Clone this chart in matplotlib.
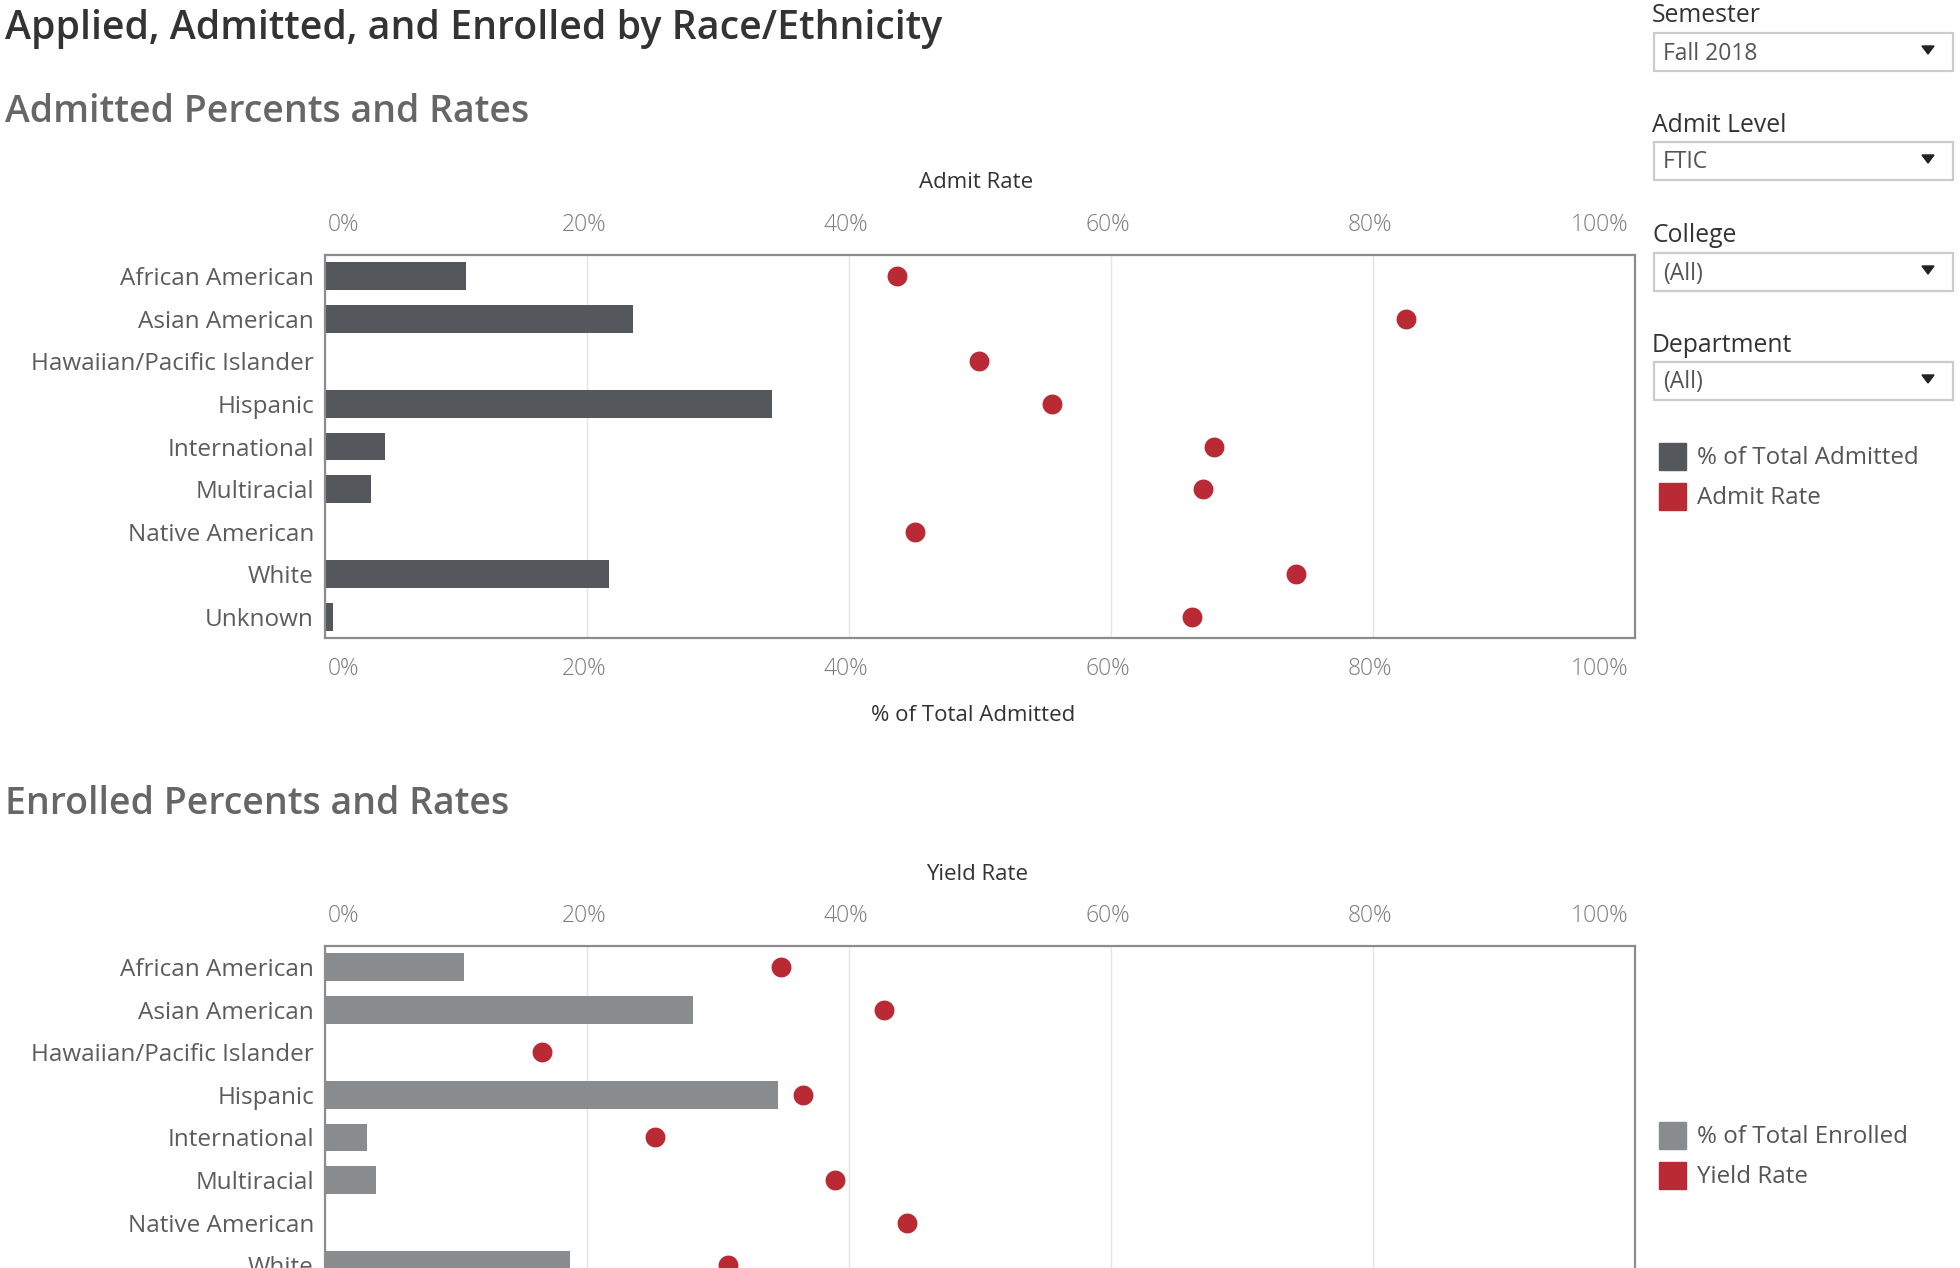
import matplotlib.pyplot as plt
from matplotlib.patches import Rectangle, Polygon
from matplotlib.transforms import blended_transform_factory, ScaledTranslation
import numpy as np

plt.rcParams['font.family'] = ['Open Sans', 'DejaVu Sans']

# data
categories = ['African American', 'Asian American', 'Hawaiian/Pacific Islander',
              'Hispanic', 'International', 'Multiracial', 'Native American',
              'White', 'Unknown']
pct_admitted = [10.8, 23.5, 0.0, 34.1, 4.6, 3.5, 0.0, 21.7, 0.6]
admit_rate = [43.7, 82.5, 49.9, 55.5, 67.9, 67.0, 45.0, 74.1, 66.2]
# Unknown row of the enrolled chart is cut off in the reference
pct_enrolled = [10.6, 28.1, 0.0, 34.6, 3.2, 3.9, 0.0, 18.7, np.nan]
yield_rate = [34.8, 42.7, 16.6, 36.5, 25.2, 38.9, 44.4, 30.8, np.nan]

x_ticks = [0, 20, 40, 60, 80, 100]
x_tick_labels = ['0%', '20%', '40%', '60%', '80%', '100%']

filters = [('Semester', 'Fall 2018'), ('Admit Level', 'FTIC'),
           ('College', '(All)'), ('Department', '(All)')]

DARK = '#54585c'
LIGHT = '#898c8e'
RED = '#b92a35'

W, H = 1960, 1268
fig = plt.figure(figsize=(W / 100, H / 100), dpi=100)


def fx(px):
    return px / W


def fy(py):
    return 1 - py / H


def tick_row(ax, y_px):
    # tableau-style tick labels: first/last kept inside the frame
    trans = blended_transform_factory(ax.transData, fig.transFigure)
    n = len(x_ticks)
    for i, (xt, lab) in enumerate(zip(x_ticks, x_tick_labels)):
        if i == 0:
            ha, dx = 'left', 3
        elif i == n - 1:
            ha, dx = 'right', -7
        else:
            ha, dx = 'center', -3
        off = ScaledTranslation(dx / 100, 0, fig.dpi_scale_trans)
        ax.text(xt / 100, fy(y_px), lab, transform=trans + off, ha=ha, va='center',
                fontsize=16.5, color='#7c7c7c', fontweight='light', clip_on=False)


def make_panel(top_px, bar_vals, dot_vals, bar_color, tick_rows):
    ax = fig.add_axes([fx(325), fy(top_px + 383), 1310 / W, 383 / H])
    y = np.arange(len(categories))
    ax.barh(y, np.array(bar_vals) / 100, height=0.65, color=bar_color, zorder=2)
    ax.scatter(np.array(dot_vals) / 100, y, s=205, color=RED, linewidths=0, zorder=3)
    ax.set_xlim(0, 1)
    ax.set_ylim(len(categories) - 0.5, -0.5)
    ax.set_yticks(y)
    ax.set_yticklabels(categories, fontsize=17.5, color='#5c5c5c', fontweight='medium')
    ax.set_xticks(np.array(x_ticks) / 100)
    ax.tick_params(axis='y', length=0, pad=8)
    ax.tick_params(axis='x', length=0, labelbottom=False)
    for r in tick_rows:
        tick_row(ax, r)
    ax.grid(axis='x', color='#e4e4e4', lw=1, zorder=0)
    for s in ax.spines.values():
        s.set_color('#8c8c8c')
        s.set_linewidth(1.6)
    return ax


make_panel(255, pct_admitted, admit_rate, DARK, [225, 669])
make_panel(946, pct_enrolled, yield_rate, LIGHT, [916])

# titles
fig.text(fx(5), fy(29), 'Applied, Admitted, and Enrolled by Race/Ethnicity',
         fontsize=28.3, fontweight='semibold', color='#333333', va='center')
fig.text(fx(5), fy(112), 'Admitted Percents and Rates',
         fontsize=27, fontweight='semibold', color='#666666', va='center')
fig.text(fx(5), fy(804), 'Enrolled Percents and Rates',
         fontsize=27, fontweight='semibold', color='#666666', va='center')

# axis titles
fig.text(fx(976), fy(182), 'Admit Rate', fontsize=16, color='#333333',
         ha='center', va='center')
fig.text(fx(973), fy(715), '% of Total Admitted', fontsize=16, color='#333333',
         ha='center', va='center')
fig.text(fx(977), fy(874), 'Yield Rate', fontsize=16, color='#333333',
         ha='center', va='center')

# filter controls
label_y = [16, 125, 236, 345]
for (name, value), ly in zip(filters, label_y):
    fig.text(fx(1652), fy(ly), name, fontsize=17.8, color='#333333', va='center')
    box_top = ly + 17
    fig.patches.append(Rectangle((fx(1654), fy(box_top + 38)), 299 / W, 38 / H,
                                 transform=fig.transFigure, facecolor='white',
                                 edgecolor='#cccccc', lw=1.6))
    fig.text(fx(1663), fy(box_top + 20.5), value, fontsize=16.5, color='#555555',
             va='center')
    cx, cy = 1928, box_top + 17
    fig.patches.append(Polygon([(fx(cx - 6), fy(cy - 4)), (fx(cx + 6), fy(cy - 4)),
                                (fx(cx), fy(cy + 4))], closed=True,
                               transform=fig.transFigure, color='#222222'))

# legends
legend_items = [(443, DARK, '% of Total Admitted'), (483, RED, 'Admit Rate'),
                (1122, LIGHT, '% of Total Enrolled'), (1162, RED, 'Yield Rate')]
for top, col, txt in legend_items:
    fig.patches.append(Rectangle((fx(1659), fy(top + 27)), 27 / W, 27 / H,
                                 transform=fig.transFigure, color=col))
    fig.text(fx(1697), fy(top + 15), txt, fontsize=17.4, color='#555555', va='center')

fig.savefig('out.png', dpi=100, facecolor='white')
